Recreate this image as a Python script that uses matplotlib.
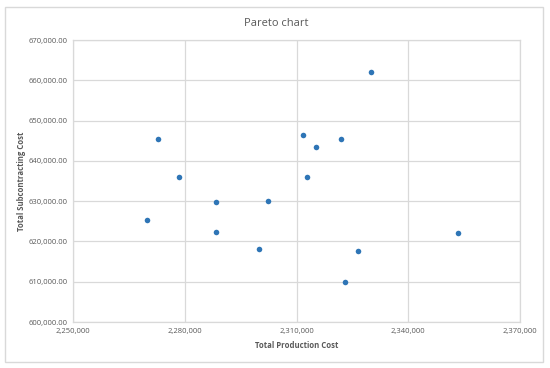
import matplotlib
matplotlib.use("Agg")
import matplotlib.pyplot as plt
from matplotlib.patches import Rectangle
from matplotlib.ticker import FuncFormatter

production_cost = [2329900, 2272700, 2278500, 2288500, 2302300, 2311700, 2315300,
                   2321900, 2312900, 2269900, 2288500, 2299900, 2326600, 2323100, 2353400]
subcontracting_cost = [662000, 645400, 636100, 629900, 630100, 646300, 643400,
                       645500, 636000, 625300, 622400, 618100, 617600, 609900, 622100]

x_ticks = [2250000, 2280000, 2310000, 2340000, 2370000]
y_ticks = [600000, 610000, 620000, 630000, 640000, 650000, 660000, 670000]

plt.rcParams['font.family'] = ['Open Sans', 'DejaVu Sans']

fig = plt.figure(figsize=(5.5, 3.68), dpi=100)
fig.patch.set_facecolor('white')

border = Rectangle((5 / 550, 1 - 362 / 368), 538 / 550, 355 / 368,
                   transform=fig.transFigure, facecolor='none',
                   edgecolor='#D9D9D9', linewidth=1.0, zorder=-10)
fig.patches.append(border)

ax = fig.add_axes([73 / 550, 1 - 322 / 368, 447 / 550, 282 / 368])
ax.patch.set_alpha(0)
ax.scatter(production_cost, subcontracting_cost, s=16, color='#2E75B6', zorder=3, linewidths=0)

ax.set_xlim(x_ticks[0], x_ticks[-1])
ax.set_ylim(y_ticks[0], y_ticks[-1])
ax.set_xticks(x_ticks)
ax.set_yticks(y_ticks)
ax.xaxis.set_major_formatter(FuncFormatter(lambda v, p: f"{v:,.0f}"))
ax.yaxis.set_major_formatter(FuncFormatter(lambda v, p: f"{v:,.2f}"))
ax.grid(True, color='#D9D9D9', linewidth=0.9)
ax.set_axisbelow(True)
for s in ax.spines.values():
    s.set_color('#D9D9D9')
    s.set_linewidth(0.9)
ax.tick_params(length=0, labelsize=5.5, labelcolor='#595959', pad=4)

ax.set_xlabel('Total Production Cost', fontsize=5.6, fontweight='bold', color='#595959', labelpad=5)
ax.set_ylabel('Total Subcontracting Cost', fontsize=5.6, fontweight='bold', color='#595959', labelpad=2)

fig.text(276 / 550, 1 - 23 / 368, 'Pareto chart', ha='center', va='center', fontsize=8, color='#595959')

fig.savefig('out.png', dpi=100)
